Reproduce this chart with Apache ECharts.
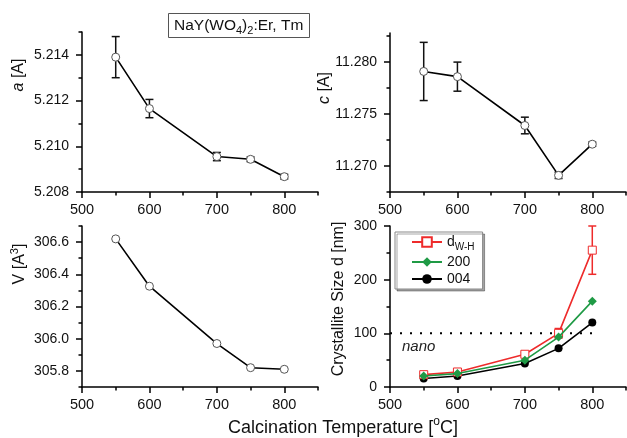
<!DOCTYPE html>
<html><head><meta charset="utf-8">
<script src="https://cdn.jsdelivr.net/npm/echarts@6/dist/echarts.min.js"></script>
<style>html,body{margin:0;padding:0;background:#fff}#c{width:627px;height:438px}</style>
</head><body><div id="c"></div>
<script>
// ---- data ----
const temps = [550, 600, 700, 750, 800];
const aVal = [5.2139, 5.21165, 5.20955, 5.20943, 5.20867];
const aErr = [0.0009, 0.0004, 0.00018, 0.0001, 0.0001];
const cVal = [11.2791, 11.2786, 11.2739, 11.2691, 11.2721];
const cErr = [0.0028, 0.0014, 0.0008, 0.0003, 0.0002];
const vVal = [306.62, 306.326, 305.97, 305.82, 305.81];
const dWH = [23, 28, 61, 100, 255];
const dWHErr = [3, 3, 3, 9, 45];
const d200 = [20.5, 25, 50, 93, 160];
const d004 = [15.7, 20.5, 43.7, 72, 120];
const nanoLine = [[500, 100], [810, 100]];
// ticks
const xTicks = [500, 600, 700, 800], xMinor = [550, 650, 750, 850];
const aTicks = [5.208, 5.210, 5.212, 5.214], aMinor = [5.209, 5.211, 5.213, 5.215];
const cTicks = [11.270, 11.275, 11.280], cMinor = [11.2675, 11.2725, 11.2775, 11.2825];
const vTicks = [305.8, 306.0, 306.2, 306.4, 306.6], vMinor = [305.7, 305.9, 306.1, 306.3, 306.5, 306.7];
const dTicks = [0, 100, 200, 300], dMinor = [50, 150, 250];

const FONT = 'Liberation Sans, Arial, sans-serif';
const chart = echarts.init(document.getElementById('c'), null, {renderer: 'canvas'});

const grids = [
  {left: 82, top: 32, width: 236, height: 160},
  {left: 390, top: 33, width: 236, height: 159},
  {left: 82, top: 226, width: 236, height: 161},
  {left: 390, top: 226, width: 236, height: 161}
];
const yRanges = [
  {min: 5.208, max: 5.215, ticks: aTicks, minor: aMinor, fmt: v => v.toFixed(3)},
  {min: 11.2675, max: 11.2828, ticks: cTicks, minor: cMinor, fmt: v => v.toFixed(3)},
  {min: 305.7, max: 306.7, ticks: vTicks, minor: vMinor, fmt: v => v.toFixed(1)},
  {min: 0, max: 300, ticks: dTicks, minor: dMinor, fmt: v => String(Math.round(v))}
];
const xAxes = [], yAxes = [];
grids.forEach((g, i) => {
  xAxes.push({
    type: 'value', gridIndex: i, min: 500, max: 850, position: 'bottom', offset: 0,
    axisLine: {show: true, onZero: false, lineStyle: {color: '#000', width: 1.5}},
    axisTick: {show: true, customValues: xTicks, length: 6, lineStyle: {color: '#000', width: 1.5}},
    axisLabel: {show: true, customValues: xTicks, margin: 10, fontSize: 14.5, fontFamily: FONT, color: '#111', formatter: v => String(Math.round(v))},
    splitLine: {show: false}
  });
  xAxes.push({
    type: 'value', gridIndex: i, min: 500, max: 850, position: 'bottom', offset: 0,
    axisLine: {show: false, onZero: false},
    axisTick: {show: true, customValues: xMinor, length: 3.5, lineStyle: {color: '#000', width: 1.5}},
    axisLabel: {show: false}, splitLine: {show: false}
  });
  const r = yRanges[i];
  yAxes.push({
    type: 'value', gridIndex: i, min: r.min, max: r.max, position: 'left', offset: 0,
    axisLine: {show: true, onZero: false, lineStyle: {color: '#000', width: 1.5}},
    axisTick: {show: true, customValues: r.ticks, length: 6, lineStyle: {color: '#000', width: 1.5}},
    axisLabel: {show: true, customValues: r.ticks, margin: 13, fontSize: 14, fontFamily: FONT, color: '#111', formatter: r.fmt},
    splitLine: {show: false}
  });
  yAxes.push({
    type: 'value', gridIndex: i, min: r.min, max: r.max, position: 'left', offset: 0,
    axisLine: {show: false, onZero: false},
    axisTick: {show: true, customValues: r.minor, length: 3.5, lineStyle: {color: '#000', width: 1.5}},
    axisLabel: {show: false}, splitLine: {show: false}
  });
});

function pairs(xs, ys) { return xs.map((x, i) => [x, ys[i]]); }
function errData(xs, ys, es) { return xs.map((x, i) => [x, ys[i] - es[i], ys[i] + es[i]]); }
function errSeries(idx, data, color) {
  return {
    type: 'custom', xAxisIndex: idx * 2, yAxisIndex: idx * 2, z: 1, silent: true,
    data: data, encode: {x: 0, y: [1, 2]},
    renderItem: function (params, api) {
      const x = api.value(0), lo = api.value(1), hi = api.value(2);
      const p1 = api.coord([x, hi]), p2 = api.coord([x, lo]);
      const w = 4;
      const st = {stroke: color, lineWidth: 1.5};
      return {type: 'group', children: [
        {type: 'line', shape: {x1: p1[0], y1: p1[1], x2: p2[0], y2: p2[1]}, style: st},
        {type: 'line', shape: {x1: p1[0] - w, y1: p1[1], x2: p1[0] + w, y2: p1[1]}, style: st},
        {type: 'line', shape: {x1: p2[0] - w, y1: p2[1], x2: p2[0] + w, y2: p2[1]}, style: st}
      ]};
    }
  };
}
function openLine(idx, data) {
  return {
    type: 'line', xAxisIndex: idx * 2, yAxisIndex: idx * 2, z: 3, data: data,
    symbol: 'circle', symbolSize: 8, showAllSymbol: true,
    lineStyle: {color: '#000', width: 1.6},
    itemStyle: {color: '#fff', borderColor: '#555', borderWidth: 1},
    emphasis: {disabled: true}
  };
}

const RED = '#ee2b2b', GREEN = '#1f9a45';
const series = [
  errSeries(0, errData(temps, aVal, aErr), '#111'),
  openLine(0, pairs(temps, aVal)),
  errSeries(1, errData(temps, cVal, cErr), '#111'),
  openLine(1, pairs(temps, cVal)),
  openLine(2, pairs(temps, vVal)),
  {
    type: 'line', xAxisIndex: 6, yAxisIndex: 6, data: nanoLine, symbol: 'none', silent: true, z: 1,
    lineStyle: {color: '#000', width: 2, type: [2, 8]}
  },
  {
    name: '004', type: 'line', xAxisIndex: 6, yAxisIndex: 6, z: 3, data: pairs(temps, d004),
    symbol: 'circle', symbolSize: 8, lineStyle: {color: '#000', width: 1.6},
    itemStyle: {color: '#000'}
  },
  {
    name: '200', type: 'line', xAxisIndex: 6, yAxisIndex: 6, z: 4, data: pairs(temps, d200),
    symbol: 'diamond', symbolSize: 9, lineStyle: {color: GREEN, width: 1.6},
    itemStyle: {color: GREEN}
  },
  errSeries(3, errData(temps, dWH, dWHErr), RED),
  {
    name: 'dWH', type: 'line', xAxisIndex: 6, yAxisIndex: 6, z: 3, data: pairs(temps, dWH),
    symbol: 'rect', symbolSize: 8, lineStyle: {color: RED, width: 1.6},
    itemStyle: {color: '#fff', borderColor: RED, borderWidth: 1}
  }
];

const option = {
  animation: false,
  backgroundColor: '#fff',
  grid: grids,
  xAxis: xAxes,
  yAxis: yAxes,
  series: series,
  title: {
    text: 'NaY(WO{s|4}){s|2}:Er, Tm',
    left: 168, top: 13,
    borderColor: '#555', borderWidth: 1, padding: [3, 6, 2, 6],
    textStyle: {
      fontSize: 15.5, fontWeight: 'normal', fontFamily: FONT, color: '#111', lineHeight: 20,
      rich: {s: {fontSize: 11, fontFamily: FONT, color: '#111', verticalAlign: 'bottom', lineHeight: 20}}
    }
  },
  legend: {
    orient: 'vertical', left: 395, top: 232,
    data: ['dWH', '200', '004'],
    backgroundColor: '#fff', borderColor: '#888', borderWidth: 1,
    shadowColor: 'rgba(0,0,0,0.35)', shadowOffsetX: 2, shadowOffsetY: 2, shadowBlur: 0,
    padding: [3, 8, 3, 16], itemGap: 3, itemWidth: 30, itemHeight: 12,
    formatter: n => n === 'dWH' ? '{m|d}{s|W-H}' : n,
    textStyle: {
      fontSize: 14, fontFamily: FONT, color: '#111',
      rich: {
        m: {fontSize: 14, fontFamily: FONT, color: '#111', lineHeight: 20},
        s: {fontSize: 10, fontFamily: FONT, color: '#111', verticalAlign: 'bottom', lineHeight: 20}
      }
    }
  },
  graphic: [
    {type: 'text', x: 19, y: 75, rotation: Math.PI / 2,
      style: {text: '{i|a} [A]', fontSize: 16, fontFamily: FONT, fill: '#111', align: 'center', verticalAlign: 'middle',
        rich: {i: {fontSize: 16, fontStyle: 'italic', fontFamily: FONT, fill: '#111'}}}},
    {type: 'text', x: 325, y: 88, rotation: Math.PI / 2,
      style: {text: '{i|c} [A]', fontSize: 16, fontFamily: FONT, fill: '#111', align: 'center', verticalAlign: 'middle',
        rich: {i: {fontSize: 16, fontStyle: 'italic', fontFamily: FONT, fill: '#111'}}}},
    {type: 'text', x: 20, y: 264, rotation: Math.PI / 2,
      style: {text: '{n|V [A}{p|3}{n|]}', fontSize: 16, fontFamily: FONT, fill: '#111', align: 'center', verticalAlign: 'middle',
        rich: {n: {fontSize: 16, fontFamily: FONT, fill: '#111', lineHeight: 22}, p: {fontSize: 11, fontFamily: FONT, fill: '#111', verticalAlign: 'top', lineHeight: 22}}}},
    {type: 'text', x: 339, y: 299, rotation: Math.PI / 2,
      style: {text: 'Crystallite Size d [nm]', fontSize: 16, fontFamily: FONT, fill: '#111', align: 'center', verticalAlign: 'middle'}},
    {type: 'text', x: 343, y: 428,
      style: {text: '{n|Calcination Temperature [}{p|o}{n|C]}', fontSize: 18, fontFamily: FONT, fill: '#111', align: 'center', verticalAlign: 'middle',
        rich: {n: {fontSize: 18, fontFamily: FONT, fill: '#111', lineHeight: 24}, p: {fontSize: 12, fontFamily: FONT, fill: '#111', verticalAlign: 'top', lineHeight: 24}}}},
    {type: 'text', x: 402, y: 347,
      style: {text: 'nano', fontSize: 15, fontStyle: 'italic', fontFamily: FONT, fill: '#222', align: 'left', verticalAlign: 'middle'}}
  ]
};
chart.setOption(option);
</script>
</body></html>
